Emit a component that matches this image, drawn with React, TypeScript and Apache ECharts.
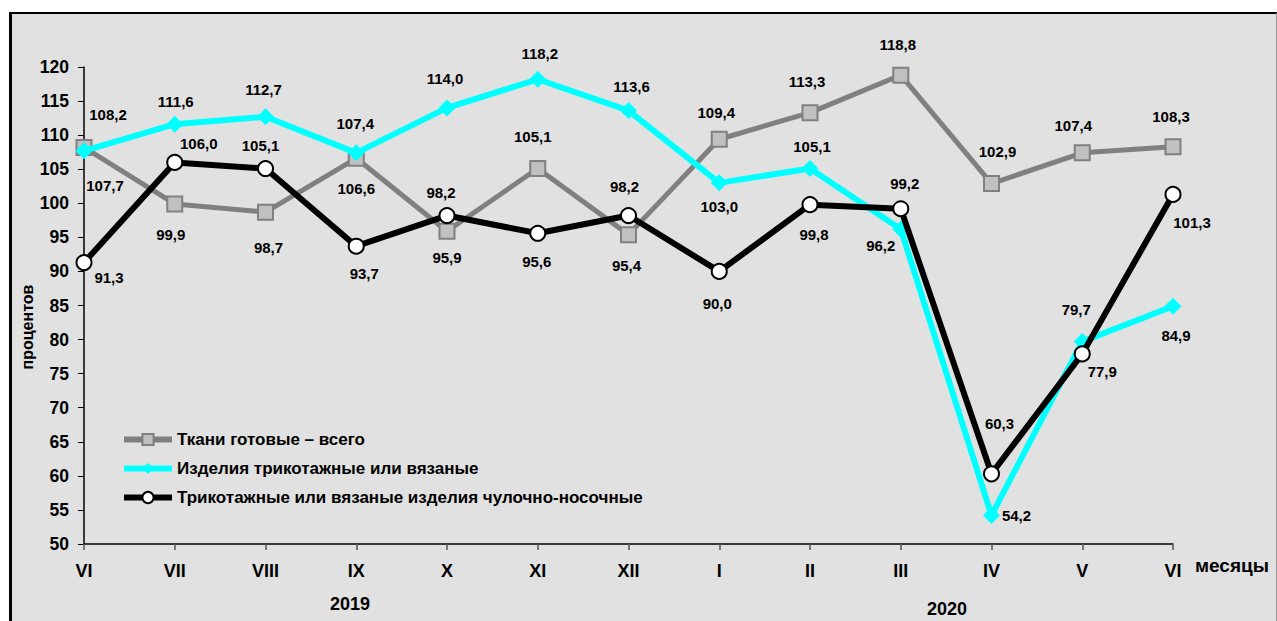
import React, { useEffect, useRef } from "react";
import * as echarts from "echarts";

const months = ["VI", "VII", "VIII", "IX", "X", "XI", "XII", "I", "II", "III", "IV", "V", "VI"];
const fabrics = [108.2, 99.9, 98.7, 106.6, 95.9, 105.1, 95.4, 109.4, 113.3, 118.8, 102.9, 107.4, 108.3];
const knitwear = [107.7, 111.6, 112.7, 107.4, 114.0, 118.2, 113.6, 103.0, 105.1, 96.2, 54.2, 79.7, 84.9];
const hosiery = [91.3, 106.0, 105.1, 93.7, 98.2, 95.6, 98.2, 90.0, 99.8, 99.2, 60.3, 77.9, 101.3];
const seriesNames = [
  "Ткани готовые – всего",
  "Изделия трикотажные или вязаные",
  "Трикотажные или вязаные изделия чулочно-носочные",
];
const yTicks = { min: 50, max: 120, interval: 5 };

// label offsets (pixels) relative to each marker
const fabricsLabelOffsets = [[24, -33], [-4, 31], [3, 35], [0, 30], [0, 26], [-5, -32], [-2, 31], [-3, -27], [-3, -31], [-3, -31], [6, -32], [-9, -27], [-2, -30]];
const knitLabelOffsets = [[21, 35], [1, -23], [-2, -27], [-1, -29], [-2, -29], [2, -26], [3, -24], [0, 24], [2, -22], [-20, 16], [25, 0], [-6, -32], [3, 29]];
const hoseLabelOffsets = [[25, 15], [24, -19], [-5, -23], [8, 27], [-6, -23], [-1, 28], [-4, -29], [-2, 32], [4, 30], [4, -25], [8, -50], [20, 18], [19, 28]];

const FONT = "'Liberation Sans', Arial, sans-serif";
const fmt = (v: number) => v.toFixed(1).replace(".", ",");

function build(values: number[], offsets: number[][]) {
  return values.map((v, i) => ({ value: v, label: { offset: offsets[i] } }));
}

export default function App() {
  const ref = useRef<HTMLDivElement>(null);
  useEffect(() => {
    if (!ref.current) return;
    const chart = echarts.init(ref.current, undefined, { renderer: "svg" });
    const labelBase = {
      show: true,
      position: "inside",
      align: "center",
      verticalAlign: "middle",
      color: "#000",
      fontFamily: FONT,
      fontWeight: "bold",
      fontSize: 15,
      formatter: (p: any) => fmt(p.value),
    };
    chart.setOption({
      animation: false,
      backgroundColor: "transparent",
      grid: { left: 84, right: 104, top: 67, bottom: 77, containLabel: false },
      legend: {
        orient: "vertical",
        left: 121,
        top: 431,
        padding: 0,
        itemWidth: 48,
        itemHeight: 14,
        itemGap: 12,
        lineStyle: { width: 6 },
        textStyle: { color: "#000", fontFamily: FONT, fontWeight: "bold", fontSize: 17, padding: [0, 0, 0, 0] },
        data: seriesNames,
      },
      xAxis: {
        type: "category",
        data: months,
        boundaryGap: false,
        axisLine: { lineStyle: { color: "#000", width: 1.5 } },
        axisTick: { show: true, length: 6, lineStyle: { color: "#555", width: 1.5 } },
        axisLabel: { color: "#000", fontFamily: FONT, fontWeight: "bold", fontSize: 18, margin: 18 },
        splitLine: { show: false },
      },
      yAxis: {
        type: "value",
        min: yTicks.min,
        max: yTicks.max,
        interval: yTicks.interval,
        axisLine: { show: true, lineStyle: { color: "#000", width: 1.5 } },
        axisTick: { show: true, length: 6, lineStyle: { color: "#000", width: 1 } },
        axisLabel: { color: "#000", fontFamily: FONT, fontWeight: "bold", fontSize: 17.5, margin: 15 },
        splitLine: { show: false },
      },
      graphic: [
        { type: "text", left: 330, top: 595, style: { text: "2019", fill: "#000", font: `bold 18px ${FONT}` } },
        { type: "text", left: 927, top: 600, style: { text: "2020", fill: "#000", font: `bold 18px ${FONT}` } },
        { type: "text", left: 1195, top: 556, style: { text: "месяцы", fill: "#000", font: `bold 19px ${FONT}` } },
        {
          type: "text",
          x: 27,
          y: 327,
          rotation: Math.PI / 2,
          style: { text: "процентов", fill: "#000", font: `bold 16px ${FONT}`, align: "center", verticalAlign: "middle" },
        },
      ],
      series: [
        {
          name: seriesNames[0],
          type: "line",
          data: build(fabrics, fabricsLabelOffsets),
          symbol: "rect",
          symbolSize: 15,
          lineStyle: { color: "#808080", width: 5 },
          itemStyle: { color: "#c0c0c0", borderColor: "#808080", borderWidth: 2 },
          label: labelBase,
          z: 2,
        },
        {
          name: seriesNames[1],
          type: "line",
          data: build(knitwear, knitLabelOffsets),
          symbol: "diamond",
          symbolSize: [17, 17],
          lineStyle: { color: "#00ffff", width: 6 },
          itemStyle: { color: "#00ffff", borderColor: "#00ffff", borderWidth: 0 },
          label: labelBase,
          z: 3,
        },
        {
          name: seriesNames[2],
          type: "line",
          data: build(hosiery, hoseLabelOffsets),
          symbol: "circle",
          symbolSize: 15,
          lineStyle: { color: "#000000", width: 6 },
          itemStyle: { color: "#ffffff", borderColor: "#000000", borderWidth: 2 },
          label: labelBase,
          z: 4,
        },
      ],
    });
    return () => chart.dispose();
  }, []);

  return (
    <div style={{ position: "fixed", left: 0, top: 0, width: 1277, height: 621, background: "#fff", overflow: "hidden" }}>
      <div
        style={{
          position: "absolute",
          left: 9,
          top: 12,
          width: 1264,
          height: 640,
          background: "#e1e1e1",
          borderLeft: "3px solid #000",
          borderTop: "2px solid #000",
          borderRight: "1px solid #999",
        }}
      />
      <div ref={ref} style={{ position: "absolute", left: 0, top: 0, width: 1277, height: 621 }} />
    </div>
  );
}
